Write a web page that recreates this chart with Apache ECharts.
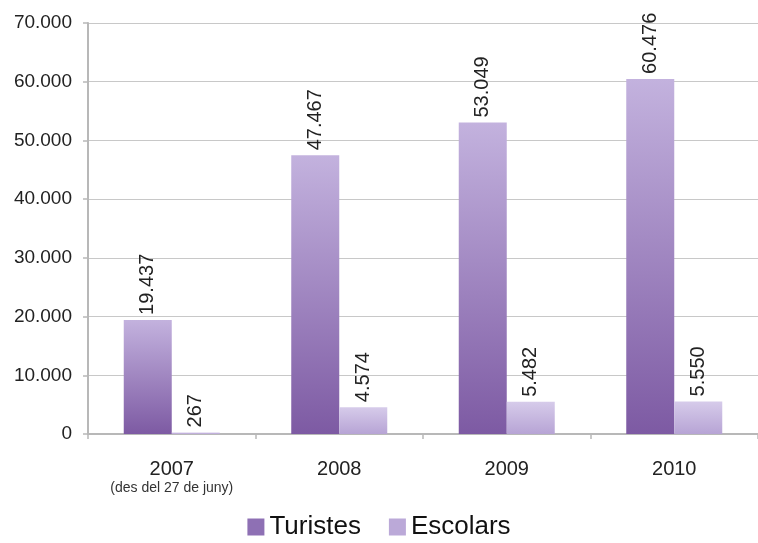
<!DOCTYPE html>
<html>
<head>
<meta charset="utf-8">
<script src="https://cdn.jsdelivr.net/npm/echarts@6/dist/echarts.min.js"></script>
<style>
html,body{margin:0;padding:0;background:#fff;}
#c{width:758px;height:543px;}
</style>
</head>
<body>
<div id="c"></div>
<script>
var categories = ['2007', '2008', '2009', '2010'];
var categorySub = ['(des del 27 de juny)', '', '', ''];
var turistes = [19437, 47467, 53049, 60476];
var escolars = [267, 4574, 5482, 5550];
var yTicks = [0, 10000, 20000, 30000, 40000, 50000, 60000, 70000];

function fmt(v) {
  return String(v).replace(/\B(?=(\d{3})+(?!\d))/g, '.');
}

var chart = echarts.init(document.getElementById('c'));
var font = 'Liberation Sans, Arial, Helvetica, sans-serif';
function grad(top, bottom) {
  return new echarts.graphic.LinearGradient(0, 0, 0, 1, [
    {offset: 0, color: top}, {offset: 1, color: bottom}
  ]);
}
var labelCfg = {
  show: true, position: 'top', rotate: 90, distance: 5,
  align: 'left', verticalAlign: 'middle',
  fontFamily: font, fontSize: 20, color: '#222',
  formatter: function (p) { return fmt(p.value); }
};
chart.setOption({
  animation: false,
  grid: {left: 88, top: 23, width: 676, height: 411, containLabel: false},
  xAxis: {
    type: 'category',
    data: categories,
    axisLine: {lineStyle: {color: '#b8b8b8', width: 2}},
    axisTick: {show: true, interval: 0, length: 5, lineStyle: {color: '#b8b8b8', width: 1.5}},
    axisLabel: {
      interval: 0,
      margin: 24,
      fontFamily: font, fontSize: 20, color: '#222',
      formatter: function (v, i) {
        var s = categorySub[i];
        return s ? '{a|' + v + '}\n{b|' + s + '}' : '{a|' + v + '}';
      },
      rich: {
        a: {fontFamily: font, fontSize: 20, color: '#222', lineHeight: 22},
        b: {fontFamily: font, fontSize: 14, color: '#333', lineHeight: 16}
      }
    }
  },
  yAxis: {
    type: 'value', min: yTicks[0], max: yTicks[yTicks.length - 1], interval: 10000,
    axisLine: {show: true, lineStyle: {color: '#b8b8b8', width: 2}},
    axisTick: {show: true, length: 5, lineStyle: {color: '#b8b8b8', width: 1.5}},
    splitLine: {show: true, lineStyle: {color: '#c8c8c8', width: 1.2}},
    axisLabel: {
      margin: 16, fontFamily: font, fontSize: 19, color: '#222',
      formatter: function (v) { return fmt(v); }
    }
  },
  legend: {
    top: 509, left: 'center',
    itemWidth: 17, itemHeight: 17, itemGap: 28,
    icon: 'rect',
    textStyle: {fontFamily: font, fontSize: 26, color: '#111'},
    data: [
      {name: 'Turistes', itemStyle: {color: '#8e70b4'}},
      {name: 'Escolars', itemStyle: {color: '#bba9d8'}}
    ]
  },
  series: [
    {
      name: 'Turistes', type: 'bar', data: turistes,
      barWidth: 48, barGap: '0%',
      itemStyle: {color: grad('#c3b2de', '#7d5aa3')},
      label: labelCfg
    },
    {
      name: 'Escolars', type: 'bar', data: escolars,
      barWidth: 48,
      itemStyle: {color: grad('#d6cbea', '#b7a4d5')},
      label: labelCfg
    }
  ]
});
</script>
</body>
</html>
